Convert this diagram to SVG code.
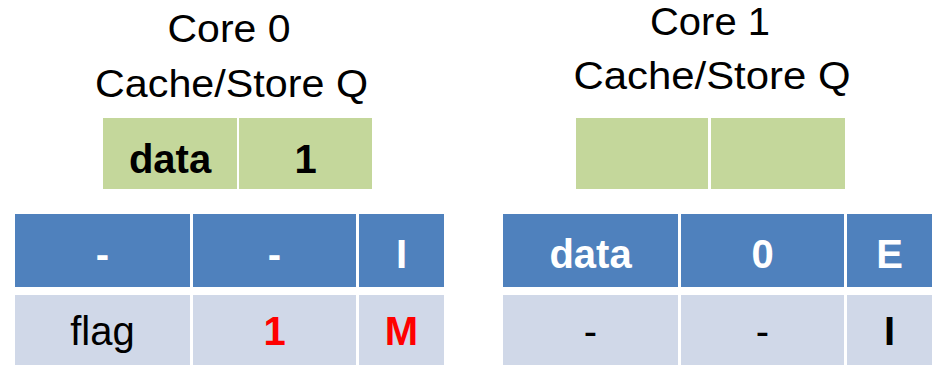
<svg xmlns="http://www.w3.org/2000/svg" width="932" height="365" viewBox="0 0 932 365">
<style>
  .title{font-family:"Liberation Sans",Arial,sans-serif;font-size:38px;fill:#000;text-anchor:middle}
  .sq{fill:#C4D79B}
  .hd{fill:#4F81BD}
  .rw{fill:#D0D8E8}
  .t{font-family:"Liberation Sans",Arial,sans-serif;font-size:40px;text-anchor:middle}
  .b{font-weight:bold}
  .w{fill:#fff}
  .k{fill:#000}
  .r{fill:#FF0000}
</style>
<rect width="932" height="365" fill="#fff"/>
<g id="core0-title">
  <text class="title" x="229" y="42" textLength="123" lengthAdjust="spacingAndGlyphs">Core 0</text>
  <text class="title" x="231.5" y="97" textLength="273" lengthAdjust="spacingAndGlyphs">Cache/Store Q</text>
</g>
<g id="core0-storeq">
  <rect class="sq" x="103" y="118" width="134" height="71"/>
  <rect class="sq" x="239" y="118" width="133" height="71"/>
  <text class="t b k" x="170" y="173">data</text>
  <text class="t b k" x="305.5" y="173">1</text>
</g>
<g id="core0-cache">
  <rect class="hd" x="15" y="214" width="175" height="73"/>
  <rect class="hd" x="193" y="214" width="163" height="73"/>
  <rect class="hd" x="359" y="214" width="85" height="73"/>
  <rect class="rw" x="15" y="295" width="175" height="70"/>
  <rect class="rw" x="193" y="295" width="163" height="70"/>
  <rect class="rw" x="359" y="295" width="85" height="70"/>
  <text class="t b w" x="102.5" y="268">-</text>
  <text class="t b w" x="274.5" y="268">-</text>
  <text class="t b w" x="401.5" y="268">I</text>
  <text class="t k" x="102.5" y="345">flag</text>
  <text class="t b r" x="274.5" y="345">1</text>
  <text class="t b r" x="401.5" y="345">M</text>
</g>
<g id="core1-title">
  <text class="title" x="710" y="35" textLength="120" lengthAdjust="spacingAndGlyphs">Core 1</text>
  <text class="title" x="712" y="89" textLength="277" lengthAdjust="spacingAndGlyphs">Cache/Store Q</text>
</g>
<g id="core1-storeq">
  <rect class="sq" x="576" y="118" width="132" height="71"/>
  <rect class="sq" x="711" y="118" width="134" height="71"/>
</g>
<g id="core1-cache">
  <rect class="hd" x="503" y="214" width="175" height="73"/>
  <rect class="hd" x="681" y="214" width="163" height="73"/>
  <rect class="hd" x="847" y="214" width="85" height="73"/>
  <rect class="rw" x="503" y="295" width="175" height="70"/>
  <rect class="rw" x="681" y="295" width="163" height="70"/>
  <rect class="rw" x="847" y="295" width="85" height="70"/>
  <text class="t b w" x="590.5" y="268">data</text>
  <text class="t b w" x="762.5" y="268">0</text>
  <text class="t b w" x="889.5" y="268">E</text>
  <text class="t k" x="590.5" y="345">-</text>
  <text class="t k" x="762.5" y="345">-</text>
  <text class="t b k" x="889.5" y="345">I</text>
</g>
</svg>
